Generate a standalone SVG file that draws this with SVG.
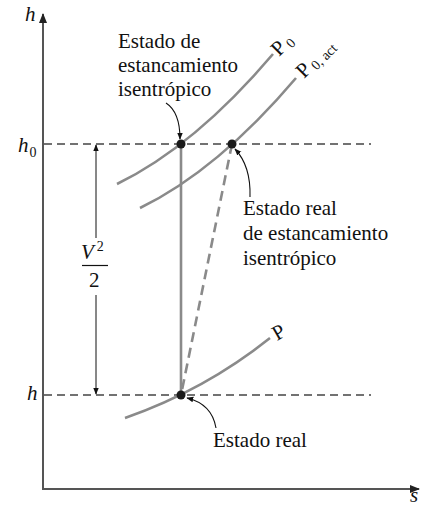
<svg xmlns="http://www.w3.org/2000/svg" width="430" height="508" viewBox="0 0 430 508">
<style>
text{font-family:"Liberation Serif","Times New Roman",serif;fill:#111}
.lbl{font-size:21px}
.it{font-style:italic}
.sub{font-size:14px}
.axis{stroke:#555;stroke-width:2;fill:none}
.dash{stroke:#444;stroke-width:1.3;stroke-dasharray:8 5;fill:none}
.curve{stroke:#8a8a8a;stroke-width:2.6;fill:none}
.ptr{stroke:#111;stroke-width:1.1;fill:none;marker-end:url(#ah)}
.dot{fill:#1a1a1a}
</style>
<defs>
<marker id="ah" viewBox="0 0 10 10" refX="9" refY="5" markerWidth="7" markerHeight="7" markerUnits="userSpaceOnUse" orient="auto">
<path d="M0,1 L10,5 L0,9 Z" fill="#111"/>
</marker>
<marker id="ax" viewBox="0 0 10 10" refX="9" refY="5" markerWidth="10" markerHeight="10" markerUnits="userSpaceOnUse" orient="auto">
<path d="M0,1 L10,5 L0,9 Z" fill="#222"/>
</marker>
</defs>

<g id="axes">
<line class="axis" x1="43" y1="489" x2="43" y2="14" marker-end="url(#ax)"/>
<line class="axis" x1="42" y1="489" x2="419" y2="489" marker-end="url(#ax)"/>
<text class="lbl it" x="25" y="21">h</text>
<text class="lbl it" x="410" y="502">s</text>
</g>

<g id="levels">
<line class="dash" x1="44" y1="144" x2="371" y2="144"/>
<line class="dash" x1="44" y1="395" x2="371" y2="395"/>
<text class="lbl it" x="18" y="152">h<tspan class="sub" font-style="normal" dx="1" dy="5">0</tspan></text>
<text class="lbl it" x="27" y="400">h</text>
</g>

<g id="isobars">
<path class="curve" d="M117,184 Q195,146 273,54"/>
<path class="curve" d="M140,208 Q218,170 296,78"/>
<path class="curve" d="M125,418 Q205,390 270,338"/>
<text class="lbl" transform="translate(279,57) rotate(-45)">P<tspan class="sub" dx="3" dy="3">0</tspan></text>
<text class="lbl" transform="translate(304,79) rotate(-45)">P<tspan class="sub" dx="3" dy="3">0, act</tspan></text>
<text class="lbl" transform="translate(277,341) rotate(-30)">P</text>
</g>

<g id="connectors">
<line x1="181" y1="144" x2="181" y2="395" stroke="#8a8a8a" stroke-width="2.6"/>
<line x1="232" y1="144" x2="181" y2="395" stroke="#8a8a8a" stroke-width="2.6" stroke-dasharray="10 6"/>
<path class="ptr" d="M166,103 Q180,112 180,139"/>
<path class="ptr" d="M250,197 Q251,166 235,149"/>
<path class="ptr" d="M216,428 Q212,404 187,398"/>
</g>

<g id="velocity">
<line x1="96" y1="238" x2="96" y2="145" stroke="#111" stroke-width="1" marker-end="url(#ah)"/>
<line x1="96" y1="295" x2="96" y2="394" stroke="#111" stroke-width="1" marker-end="url(#ah)"/>
<text class="lbl it" x="81" y="259">V<tspan class="sub" font-style="normal" dx="3" dy="-8">2</tspan></text>
<line x1="82" y1="265.5" x2="108" y2="265.5" stroke="#111" stroke-width="1.2"/>
<text class="lbl" x="89" y="287">2</text>
</g>

<g id="isentropic-stagnation">
<circle class="dot" cx="181" cy="144" r="4.5"/>
<text class="lbl" x="118" y="48">Estado de</text>
<text class="lbl" x="118" y="72">estancamiento</text>
<text class="lbl" x="118" y="96">isentrópico</text>
</g>

<g id="actual-stagnation">
<circle class="dot" cx="232" cy="144" r="4.5"/>
<text class="lbl" x="243" y="215">Estado real</text>
<text class="lbl" x="243" y="240">de estancamiento</text>
<text class="lbl" x="243" y="265">isentrópico</text>
</g>

<g id="actual-state">
<circle class="dot" cx="181" cy="395" r="4.5"/>
<text class="lbl" x="213" y="447">Estado real</text>
</g>
</svg>
